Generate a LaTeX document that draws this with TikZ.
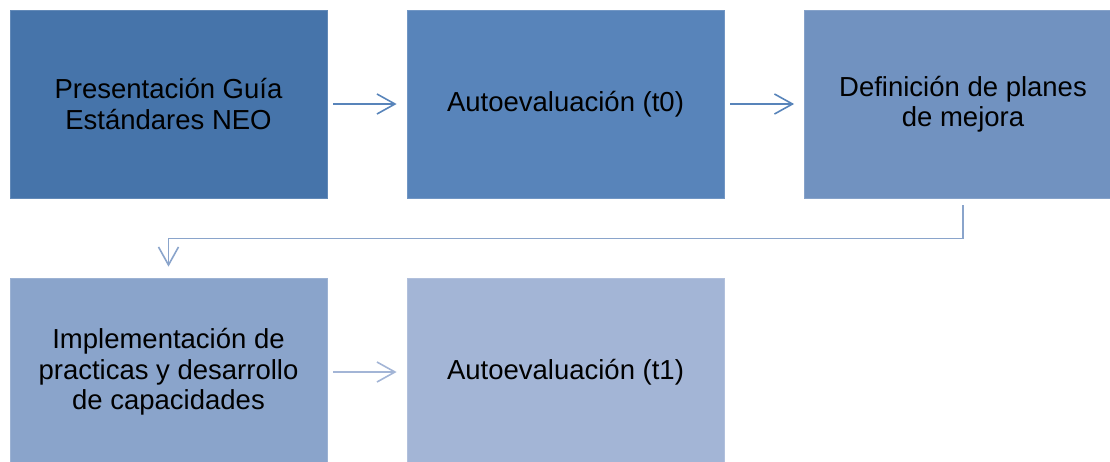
\documentclass[tikz,border=0pt]{standalone}
\usepackage{fontspec}
\setmainfont{Liberation Sans}
\usetikzlibrary{arrows.meta}
\definecolor{cA}{RGB}{70,116,170}
\definecolor{cB}{RGB}{88,132,186}
\definecolor{cC}{RGB}{113,146,192}
\definecolor{cD}{RGB}{138,164,203}
\definecolor{cE}{RGB}{163,181,214}
\tikzset{
  box/.style={rectangle, minimum width=317pt, minimum height=188pt, inner sep=0pt,
    align=center, font=\fontsize{27.5}{30.5}\selectfont, text=black, line width=0.8pt},
  arr/.style={line width=1.6pt, -{Straight Barb[length=18pt,width=20pt,line width=1.6pt]},
    shorten <=6pt, shorten >=10pt}
}
\begin{document}
\begin{tikzpicture}[x=1pt,y=-1pt]
\useasboundingbox (0,0) rectangle (1110,461);
\node[box, fill=cA, draw=cA!85!white] (b1) at (168.5,104) {Presentación Guía\\Estándares NEO};
\node[box, fill=cB, draw=cB!85!white] (b2) at (565.5,104) {Autoevaluación (t0)};
\node[box, fill=cC, draw=cC!85!white] (b3) at (963,104) {Definición de planes\\de mejora};
\node[box, fill=cD, draw=cD!85!white] (b4) at (168.5,372) {Implementación de\\practicas y desarrollo\\de capacidades};
\node[box, fill=cE, draw=cE!85!white] (b5) at (565.5,372) {Autoevaluación (t1)};
\draw[arr, draw=cB] (b1.east) -- (b2.west);
\draw[arr, draw=cB] (b2.east) -- (b3.west);
\draw[arr, draw=cD, shorten <=7pt, shorten >=11pt] (b3.south) -- ++(0,40) -| (b4.north);
\draw[arr, draw=cE] (b4.east) -- (b5.west);
\end{tikzpicture}
\end{document}
